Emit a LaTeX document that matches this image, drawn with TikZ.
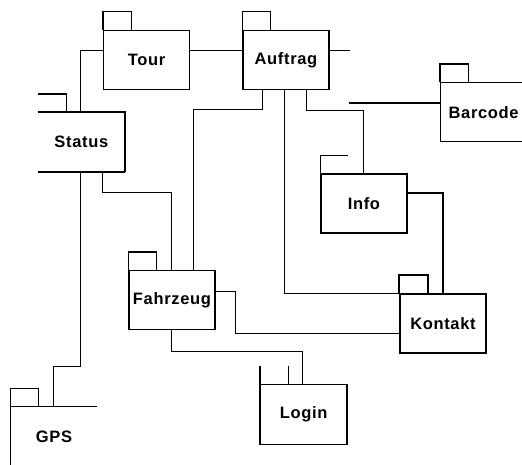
\documentclass[tikz,border=0pt]{standalone}
\usepackage{fontspec}
\setsansfont{Liberation Sans}[LetterSpace=4]
\begin{document}
\begin{tikzpicture}[x=1pt,y=-1pt,
  pkg/.style={rectangle, draw, line width=1.3pt, minimum width=86pt,
    minimum height=59pt, inner sep=0pt, anchor=north west,
    font=\sffamily\bfseries\fontsize{16.5}{19}\selectfont},
  openpkg/.style={pkg, draw=none},
  edge/.style={line width=1.3pt},
  wire/.style={line width=1pt},
  heavy/.style={line width=2pt}]
\useasboundingbox (0,0) rectangle (522,464);
\clip (0,0) rectangle (522,464);

% package bodies
\node[pkg] (tour) at (103,29.7) {Tour};
\node[pkg] (auftrag) at (242.3,29.7) {Auftrag};
\node[openpkg] (status) at (37.7,112) {Status};
\node[pkg] (barcode) at (440,82) {Barcode};
\node[pkg] (info) at (320.3,173.3) {Info};
\node[pkg] (fahrzeug) at (128.3,270) {Fahrzeug};
\node[pkg] (kontakt) at (399.3,293.3) {Kontakt};
\node[openpkg] (login) at (260,384.3) {Login};
\node[openpkg] (gps) at (10.3,406.3) {GPS};

% package tabs
\foreach \p in {tour,auftrag,barcode,fahrzeug,gps}
  \draw[edge] (\p.north west) -- ++(0,-18) -- ++(28.5,0) -- ++(0,18);
\draw[heavy] (kontakt.north west) -- ++(0,-18) -- ++(28.5,0) -- ++(0,18);
\draw[edge] (info.north west) -- ++(0,-18) -- ++(28,0);

% partially outlined packages
\draw[edge] (status.north west) ++(0,-18) -- ++(29,0) -- ++(0,18);
\draw[edge] (status.north west) -- (status.north east) -- (status.south east);
\draw[heavy] (status.south east) -- (status.south west);
\draw[heavy] (login.north west) ++(0,-18) -- (login.south west);
\draw[edge] (login.south west) -- (login.south east);
\draw[heavy] (login.south east) -- (login.north east);
\draw[edge] (login.north east) -- (login.north west);
\draw[wire] (login.north west) ++(28.3,0) -- ++(0,-18);
\draw[edge] (gps.north west) -- ++(86.4,0);
\draw[edge] (gps.north west) -- (gps.south west);

% dependencies
\draw[wire] (tour.east |- 0,50.7) -- (auftrag.west |- 0,50.7);
\draw[wire] (auftrag.east |- 0,50.7) -- ++(20.3,0) coordinate (auftragstub);
\draw[wire] (tour.west |- 0,50.7) -| (status.north -| 80.3,0);
\coordinate (barcodestub) at (349,103);
\draw[heavy] (barcodestub) -- (barcode.west |- barcodestub);
\draw[wire] (auftrag.south -| 262.3,0) |- (193.3,109.5) -- (fahrzeug.north -| 193.3,0);
\draw[wire] (auftrag.south -| 284.3,0) |- (kontakt.north west);
\draw[wire] (auftrag.south -| 306.7,0) |- (363.3,110) -- (info.north -| 363.3,0);
\draw[heavy] (info.east |- 0,193.3) -| (kontakt.north -| 443.3,0);
\draw[wire] (status.south -| 102.3,0) |- (171.7,192.3) -- (fahrzeug.north -| 171.7,0);
\draw[wire] (fahrzeug.east |- 0,291.7) -| (235.7,333.3) -- (kontakt.west |- 0,333.3);
\draw[wire] (fahrzeug.south -| 171.7,0) |- (302.3,351) -- (login.north -| 302.3,0);
\draw[wire] (status.south -| 80.3,0) |- (53.3,366.3) -- (gps.north -| 53.3,0);
\end{tikzpicture}
\end{document}
